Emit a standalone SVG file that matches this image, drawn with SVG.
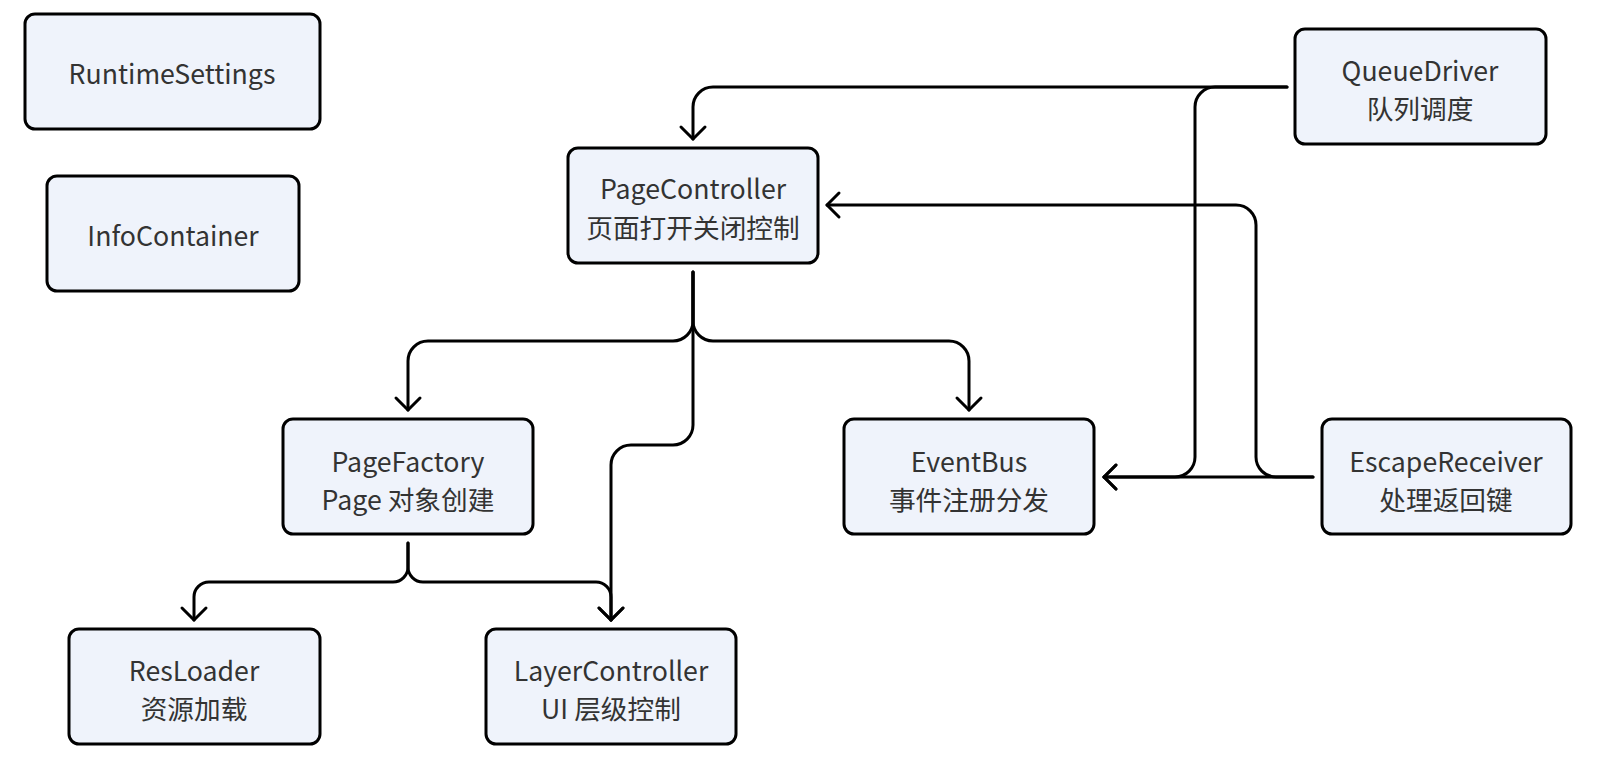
<svg xmlns="http://www.w3.org/2000/svg" width="1598" height="762" viewBox="0 0 1598 762">
<defs>
<style>
.box{fill:#EFF3FB;stroke:#000;stroke-width:3}
.t{font-family:"Noto Sans CJK SC","Noto Sans",sans-serif;font-size:26.7px;fill:#333;text-anchor:middle;dominant-baseline:central}
.e{fill:none;stroke:#000;stroke-width:3;stroke-linecap:round;stroke-linejoin:round}
</style>
<marker id="arr" markerUnits="userSpaceOnUse" markerWidth="30" markerHeight="30" refX="0" refY="0" viewBox="-15 -15 30 30" orient="auto">
<path d="M-12,-12 L0,0 L-12,12" fill="none" stroke="#000" stroke-width="3" stroke-linecap="round" stroke-linejoin="round"/>
</marker>
</defs>
<rect width="1598" height="762" fill="#fff"/>
<g id="connectors">
<path class="e" marker-end="url(#arr)" d="M1287,87 H713 A20,20 0 0 0 693,107 V139"/>
<path class="e" marker-end="url(#arr)" d="M1287,87 H1215 A20,20 0 0 0 1195,107 V457 A20,20 0 0 1 1175,477 H1104"/>
<path class="e" marker-end="url(#arr)" d="M1313,477 H1104"/>
<path class="e" marker-end="url(#arr)" d="M1313,477 H1276 A20,20 0 0 1 1256,457 V225 A20,20 0 0 0 1236,205 H827"/>
<path class="e" marker-end="url(#arr)" d="M693,272 V321 A20,20 0 0 1 673,341 H428 A20,20 0 0 0 408,361 V410"/>
<path class="e" marker-end="url(#arr)" d="M693,272 V321 A20,20 0 0 0 713,341 H949 A20,20 0 0 1 969,361 V410"/>
<path class="e" marker-end="url(#arr)" d="M693,272 V425 A20,20 0 0 1 673,445 H631 A20,20 0 0 0 611,465 V620"/>
<path class="e" marker-end="url(#arr)" d="M408,543 V567 A15,15 0 0 1 393,582 H209 A15,15 0 0 0 194,597 V620"/>
<path class="e" marker-end="url(#arr)" d="M408,543 V567 A15,15 0 0 0 423,582 H596 A15,15 0 0 1 611,597 V620"/>
</g>
<g id="RuntimeSettings"><rect class="box" x="25" y="14" width="295" height="115" rx="10"/><text class="t" x="172" y="72">RuntimeSettings</text></g>
<g id="InfoContainer"><rect class="box" x="47" y="176" width="252" height="115" rx="10"/><text class="t" x="173" y="234">InfoContainer</text></g>
<g id="QueueDriver"><rect class="box" x="1295" y="29" width="251" height="115" rx="10"/><text class="t" x="1420" y="69">QueueDriver</text><text class="t" x="1420" y="107">队列调度</text></g>
<g id="PageController"><rect class="box" x="568" y="148" width="250" height="115" rx="10"/><text class="t" x="693" y="187">PageController</text><text class="t" x="693" y="226">页面打开关闭控制</text></g>
<g id="PageFactory"><rect class="box" x="283" y="419" width="250" height="115" rx="10"/><text class="t" x="408" y="460">PageFactory</text><text class="t" x="408" y="498">Page 对象创建</text></g>
<g id="EventBus"><rect class="box" x="844" y="419" width="250" height="115" rx="10"/><text class="t" x="969" y="460">EventBus</text><text class="t" x="969" y="498">事件注册分发</text></g>
<g id="EscapeReceiver"><rect class="box" x="1322" y="419" width="249" height="115" rx="10"/><text class="t" x="1446" y="460">EscapeReceiver</text><text class="t" x="1446" y="498">处理返回键</text></g>
<g id="ResLoader"><rect class="box" x="69" y="629" width="251" height="115" rx="10"/><text class="t" x="194" y="669">ResLoader</text><text class="t" x="194" y="707">资源加载</text></g>
<g id="LayerController"><rect class="box" x="486" y="629" width="250" height="115" rx="10"/><text class="t" x="611" y="669">LayerController</text><text class="t" x="611" y="707">UI 层级控制</text></g>
</svg>
